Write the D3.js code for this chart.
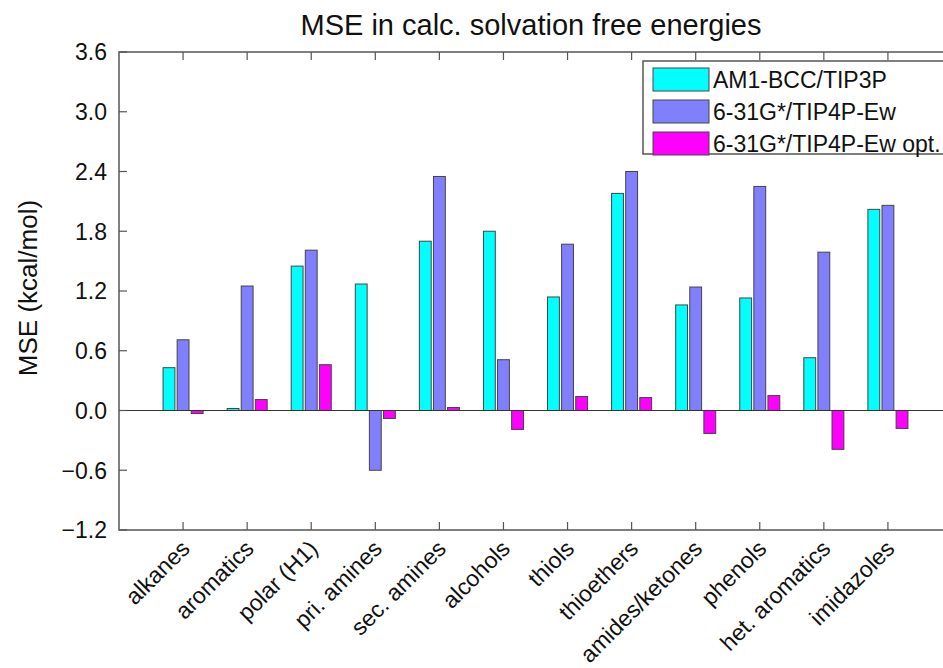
<!DOCTYPE html>
<html>
<head>
<meta charset="utf-8">
<script src="https://cdn.jsdelivr.net/npm/d3@7"></script>
<style>
  html, body { margin: 0; padding: 0; background: #fff; }
  svg { display: block; font-family: "Liberation Sans", Arial, sans-serif; }
</style>
</head>
<body>
<svg id="chart" width="943" height="668"></svg>
<script>
const categories = [
  "alkanes", "aromatics", "polar (H1)", "pri. amines", "sec. amines", "alcohols",
  "thiols", "thioethers", "amides/ketones", "phenols", "het. aromatics", "imidazoles",
];
const seriesNames = ["AM1-BCC/TIP3P", "6-31G*/TIP4P-Ew", "6-31G*/TIP4P-Ew opt."];
const am1bcc = [0.43, 0.02, 1.45, 1.27, 1.70, 1.80, 1.14, 2.18, 1.06, 1.13, 0.53, 2.02];
const tip4pew = [0.71, 1.25, 1.61, -0.60, 2.35, 0.51, 1.67, 2.40, 1.24, 2.25, 1.59, 2.06];
const tip4pewOpt = [-0.03, 0.11, 0.46, -0.08, 0.03, -0.19, 0.14, 0.13, -0.23, 0.15, -0.39, -0.18];
const yTicks = [-1.2, -0.6, 0.0, 0.6, 1.2, 1.8, 2.4, 3.0, 3.6];
const colors = ["#00ffff", "#8080ff", "#ff00ff"];

const series = [am1bcc, tip4pew, tip4pewOpt];
const svg = d3.select("#chart");

const x = d3.scaleLinear().domain([0, 13]).range([119, 952]);
const y = d3.scaleLinear().domain([-1.2, 3.6]).range([530, 52]);
const offsets = [-0.22, 0, 0.22];
const barW = x(0.185) - x(0);
const axisColor = "#555";
const tickLen = 8;

// bars
series.forEach((values, s) => {
  svg.append("g")
    .selectAll("rect")
    .data(values)
    .join("rect")
    .attr("x", (d, i) => x(i + 1 + offsets[s]) - barW / 2)
    .attr("y", (d) => y(Math.max(0, d)))
    .attr("width", barW)
    .attr("height", (d) => Math.abs(y(d) - y(0)))
    .attr("fill", colors[s])
    .attr("stroke", "#444")
    .attr("stroke-width", 1);
});

// zero line
svg.append("line")
  .attr("x1", x(0)).attr("x2", x(13))
  .attr("y1", y(0)).attr("y2", y(0))
  .attr("stroke", "#333").attr("stroke-width", 1.2);

// box
svg.append("rect")
  .attr("x", x(0)).attr("y", y(3.6))
  .attr("width", x(13) - x(0)).attr("height", y(-1.2) - y(3.6))
  .attr("fill", "none").attr("stroke", axisColor).attr("stroke-width", 1.5);

// y ticks (inward, both sides)
const yt = svg.append("g");
yt.selectAll("line.l").data(yTicks).join("line").attr("class", "l")
  .attr("x1", x(0)).attr("x2", x(0) + tickLen)
  .attr("y1", (d) => y(d)).attr("y2", (d) => y(d))
  .attr("stroke", axisColor).attr("stroke-width", 1.2);
yt.selectAll("line.r").data(yTicks).join("line").attr("class", "r")
  .attr("x1", x(13)).attr("x2", x(13) - tickLen)
  .attr("y1", (d) => y(d)).attr("y2", (d) => y(d))
  .attr("stroke", axisColor).attr("stroke-width", 1.2);
yt.selectAll("text").data(yTicks).join("text")
  .attr("x", x(0) - 12)
  .attr("y", (d) => y(d))
  .attr("dy", "0.36em")
  .attr("text-anchor", "end")
  .attr("font-size", 23)
  .attr("fill", "#111")
  .text((d) => d3.format(".1f")(d));

// x ticks (inward, top and bottom)
const idx = d3.range(1, categories.length + 1);
const xt = svg.append("g");
xt.selectAll("line.b").data(idx).join("line").attr("class", "b")
  .attr("x1", (d) => x(d)).attr("x2", (d) => x(d))
  .attr("y1", y(-1.2)).attr("y2", y(-1.2) - tickLen)
  .attr("stroke", axisColor).attr("stroke-width", 1.2);
xt.selectAll("line.t").data(idx).join("line").attr("class", "t")
  .attr("x1", (d) => x(d)).attr("x2", (d) => x(d))
  .attr("y1", y(3.6)).attr("y2", y(3.6) + tickLen)
  .attr("stroke", axisColor).attr("stroke-width", 1.2);
xt.selectAll("text").data(categories).join("text")
  .attr("transform", (d, i) => `translate(${x(i + 1) + 8},${y(-1.2) + 20}) rotate(-45)`)
  .attr("text-anchor", "end")
  .attr("font-size", 23)
  .attr("fill", "#111")
  .text((d) => d);

// title
svg.append("text")
  .attr("x", 531).attr("y", 35)
  .attr("text-anchor", "middle")
  .attr("font-size", 29)
  .attr("fill", "#111")
  .text("MSE in calc. solvation free energies");

// y label
svg.append("text")
  .attr("transform", "translate(37,288) rotate(-90)")
  .attr("text-anchor", "middle")
  .attr("font-size", 26)
  .attr("fill", "#111")
  .text("MSE (kcal/mol)");

// legend
const leg = svg.append("g").attr("transform", "translate(643,61)");
leg.append("rect")
  .attr("x", 0).attr("y", 0).attr("width", 310).attr("height", 93)
  .attr("fill", "#fff").attr("stroke", axisColor).attr("stroke-width", 1.5);
seriesNames.forEach((name, s) => {
  const row = leg.append("g").attr("transform", `translate(10,${7 + s * 32})`);
  row.append("rect")
    .attr("width", 56).attr("height", 23)
    .attr("fill", colors[s]).attr("stroke", "#444").attr("stroke-width", 1);
  row.append("text")
    .attr("x", 60).attr("y", 20)
    .attr("font-size", 23)
    .attr("fill", "#111")
    .text(name);
});
</script>
</body>
</html>
